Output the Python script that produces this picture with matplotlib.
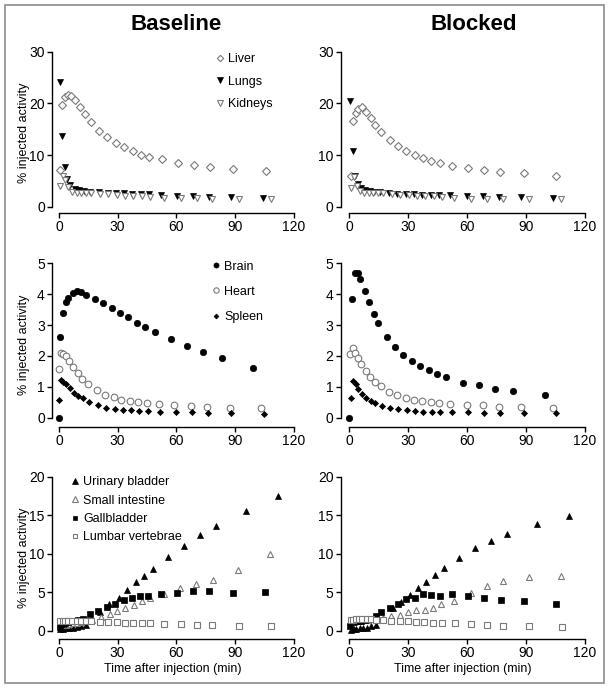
import matplotlib
matplotlib.use('Agg')
import matplotlib.pyplot as plt
from matplotlib.patches import Rectangle

plt.rcParams['font.family'] = ['Liberation Sans', 'DejaVu Sans']

# ---------------- data ----------------
x_ticks = [0, 30, 60, 90, 120]
titles = ['Baseline', 'Blocked']
y_label = '% injected activity'
x_label = 'Time after injection (min)'

# top row: Liver, Lungs, Kidneys
t_liver_base = [0.5, 1.7, 3.2, 4.4, 6.0, 8.2, 10.8, 13.1, 16.2, 20.5, 24.8, 29.2, 33.5, 37.7, 42.0, 46.3, 52.6, 60.8, 69.1, 77.3, 89.3, 105.8]
liver_base = [7.1, 19.7, 21.2, 21.7, 21.4, 20.6, 19.2, 17.9, 16.4, 14.7, 13.4, 12.3, 11.5, 10.7, 10.1, 9.7, 9.2, 8.5, 8.1, 7.7, 7.3, 6.9]
t_lungs_base = [0.5, 1.7, 2.9, 4.3, 5.8, 8.2, 10.4, 12.8, 15.9, 20.7, 24.9, 29.2, 33.3, 37.6, 41.8, 46.1, 52.1, 60.3, 68.5, 76.8, 87.9, 104.6]
lungs_base = [24.2, 13.7, 7.6, 5.4, 4.2, 3.5, 3.3, 3.1, 2.9, 2.8, 2.7, 2.6, 2.6, 2.5, 2.5, 2.4, 2.3, 2.1, 2.0, 1.9, 1.9, 1.7]
t_kidneys_base = [0.7, 2.0, 3.2, 4.8, 6.7, 9.0, 11.3, 13.7, 16.4, 21.0, 25.3, 29.5, 33.8, 38.1, 42.3, 46.6, 53.8, 62.3, 70.5, 78.5, 92.0, 108.4]
kidneys_base = [4.0, 6.0, 5.2, 3.9, 2.9, 2.6, 2.6, 2.6, 2.6, 2.5, 2.4, 2.3, 2.1, 2.1, 2.0, 1.9, 1.7, 1.7, 1.6, 1.5, 1.5, 1.4]

t_liver_block = [0.7, 2.0, 3.4, 4.6, 6.3, 8.5, 10.9, 13.3, 16.3, 20.7, 24.8, 29.1, 33.3, 37.6, 41.8, 46.2, 52.2, 60.5, 68.8, 77.0, 89.1, 105.4]
liver_block = [6.0, 16.6, 18.1, 18.9, 19.2, 18.4, 17.1, 15.9, 14.5, 13.0, 11.7, 10.8, 10.0, 9.4, 8.8, 8.4, 7.9, 7.4, 7.1, 6.7, 6.5, 6.0]
t_lungs_block = [0.5, 1.9, 3.1, 4.4, 5.9, 8.2, 10.5, 12.8, 15.6, 20.2, 24.5, 28.7, 33.0, 37.2, 41.5, 45.7, 51.5, 60.0, 68.2, 76.3, 87.7, 104.0]
lungs_block = [20.5, 10.8, 6.0, 4.3, 3.7, 3.3, 3.1, 2.9, 2.8, 2.6, 2.5, 2.5, 2.4, 2.3, 2.3, 2.3, 2.2, 2.1, 2.0, 1.9, 1.8, 1.7]
t_kidneys_block = [0.9, 2.2, 3.7, 5.4, 7.5, 9.9, 12.1, 14.4, 17.3, 21.8, 26.0, 30.3, 34.5, 38.8, 43.0, 47.3, 53.5, 61.9, 70.2, 78.4, 91.8, 108.1]
kidneys_block = [3.7, 5.8, 4.1, 3.0, 2.7, 2.6, 2.6, 2.6, 2.6, 2.5, 2.3, 2.2, 2.1, 2.1, 2.0, 1.9, 1.7, 1.5, 1.4, 1.4, 1.4, 1.4]

# middle row: Brain, Heart, Spleen
t_brain_base = [0.0, 0.7, 1.9, 3.4, 4.8, 7.0, 9.2, 11.4, 14.0, 18.2, 22.5, 26.9, 31.2, 35.5, 39.7, 44.0, 48.9, 57.3, 65.5, 73.8, 83.2, 99.5]
brain_base = [0.0, 2.62, 3.39, 3.75, 3.88, 4.05, 4.11, 4.07, 3.98, 3.86, 3.71, 3.55, 3.39, 3.25, 3.06, 2.93, 2.79, 2.55, 2.32, 2.12, 1.94, 1.61]
t_heart_base = [0.0, 0.9, 2.0, 3.4, 5.1, 7.3, 9.7, 11.8, 14.8, 19.4, 23.5, 28.0, 32.0, 36.5, 40.7, 45.0, 51.0, 59.1, 67.5, 75.7, 87.3, 103.6]
heart_base = [1.58, 2.11, 2.06, 1.99, 1.85, 1.65, 1.44, 1.26, 1.09, 0.89, 0.74, 0.66, 0.59, 0.55, 0.51, 0.48, 0.45, 0.42, 0.39, 0.36, 0.33, 0.30]
t_spleen_base = [0.0, 1.0, 2.2, 3.4, 5.5, 7.5, 9.7, 12.3, 15.3, 19.9, 24.2, 28.5, 32.7, 37.0, 41.2, 45.7, 51.6, 60.0, 68.3, 76.5, 88.1, 105.0]
spleen_base = [0.57, 1.21, 1.17, 1.09, 0.97, 0.81, 0.71, 0.63, 0.50, 0.41, 0.33, 0.29, 0.26, 0.24, 0.22, 0.21, 0.19, 0.18, 0.17, 0.16, 0.16, 0.13]

t_brain_block = [0.0, 1.4, 3.1, 4.2, 5.6, 7.8, 10.2, 12.4, 14.8, 19.0, 23.3, 27.5, 32.0, 36.2, 40.5, 44.7, 49.5, 57.8, 66.0, 74.3, 83.5, 99.8]
brain_block = [0.0, 3.86, 4.68, 4.70, 4.49, 4.10, 3.74, 3.37, 3.07, 2.62, 2.30, 2.04, 1.83, 1.67, 1.53, 1.41, 1.32, 1.14, 1.05, 0.94, 0.86, 0.75]
t_heart_block = [0.5, 1.9, 3.1, 4.2, 6.1, 8.3, 10.5, 12.9, 16.0, 20.2, 24.5, 28.7, 33.0, 37.2, 41.5, 45.7, 51.5, 59.8, 68.2, 76.3, 87.7, 103.7]
heart_block = [2.06, 2.27, 2.11, 1.95, 1.74, 1.51, 1.33, 1.17, 1.03, 0.84, 0.75, 0.65, 0.58, 0.53, 0.50, 0.48, 0.45, 0.42, 0.40, 0.36, 0.35, 0.30]
t_spleen_block = [0.7, 1.9, 3.2, 4.6, 6.5, 8.7, 10.9, 13.3, 16.5, 20.6, 24.8, 29.2, 33.3, 37.7, 42.0, 46.2, 52.4, 60.7, 68.8, 77.0, 88.9, 105.2]
spleen_block = [0.63, 1.20, 1.08, 0.93, 0.76, 0.63, 0.54, 0.48, 0.39, 0.32, 0.27, 0.24, 0.22, 0.19, 0.18, 0.17, 0.17, 0.17, 0.16, 0.16, 0.16, 0.16]

# bottom row: Urinary bladder, Small intestine, Gallbladder, Lumbar vertebrae
t_urinary_base = [0.8, 2.2, 3.6, 5.2, 7.0, 9.0, 11.2, 13.6, 16.5, 21.0, 25.8, 30.6, 35.0, 39.2, 43.5, 47.9, 55.7, 63.8, 72.2, 80.5, 95.8, 112.2]
urinary_base = [0.2, 0.25, 0.3, 0.35, 0.4, 0.45, 0.55, 0.75, 1.4, 2.4, 3.5, 4.3, 5.3, 6.3, 7.1, 8.0, 9.6, 11.0, 12.4, 13.6, 15.5, 17.5]
t_smallint_base = [0.8, 2.2, 3.6, 5.2, 7.0, 9.0, 11.2, 13.6, 17.0, 21.7, 26.0, 29.7, 34.0, 38.4, 42.6, 46.8, 53.5, 62.1, 70.3, 78.6, 91.7, 108.0]
smallint_base = [0.6, 0.7, 0.8, 0.9, 1.0, 1.05, 1.1, 1.2, 1.4, 1.8, 2.2, 2.6, 2.9, 3.4, 3.8, 4.2, 4.8, 5.5, 6.1, 6.6, 7.9, 10.0]
t_gall_base = [0.5, 1.9, 3.2, 4.6, 6.1, 8.0, 10.0, 12.1, 15.8, 20.2, 24.5, 28.7, 33.1, 37.3, 41.6, 45.8, 52.1, 60.3, 68.6, 76.9, 88.8, 105.3]
gall_base = [0.5, 0.9, 1.0, 1.1, 1.2, 1.3, 1.35, 1.5, 2.2, 2.6, 3.1, 3.5, 3.95, 4.3, 4.5, 4.55, 4.8, 4.9, 5.1, 5.1, 4.85, 5.0]
t_lumbar_base = [0.7, 2.0, 3.2, 4.8, 6.7, 9.0, 11.3, 13.7, 16.4, 21.0, 25.3, 29.5, 33.8, 38.1, 42.3, 46.6, 53.8, 62.3, 70.5, 78.5, 92.0, 108.4]
lumbar_base = [1.2, 1.25, 1.3, 1.3, 1.3, 1.3, 1.3, 1.25, 1.2, 1.15, 1.1, 1.1, 1.05, 1.05, 1.0, 0.98, 0.88, 0.82, 0.76, 0.72, 0.65, 0.6]

t_urinary_block = [0.8, 2.2, 3.6, 5.2, 7.0, 9.0, 11.2, 13.6, 17.0, 22.1, 26.5, 30.8, 35.0, 39.3, 43.5, 48.1, 55.8, 64.1, 72.4, 80.5, 95.8, 112.1]
urinary_block = [0.15, 0.2, 0.25, 0.3, 0.35, 0.4, 0.55, 0.8, 1.5, 2.9, 3.7, 4.6, 5.5, 6.3, 7.2, 8.1, 9.5, 10.7, 11.7, 12.5, 13.9, 14.9]
t_smallint_block = [0.8, 2.2, 3.6, 5.2, 7.0, 9.0, 11.2, 13.6, 17.0, 21.4, 25.7, 29.9, 34.1, 38.4, 42.5, 46.7, 53.5, 61.9, 70.2, 78.5, 91.7, 107.9]
smallint_block = [1.0, 1.1, 1.2, 1.3, 1.35, 1.4, 1.5, 1.6, 1.7, 1.9, 2.1, 2.4, 2.7, 2.75, 3.0, 3.5, 3.85, 4.95, 5.8, 6.4, 7.0, 7.1]
t_gall_block = [0.5, 1.9, 3.2, 4.6, 6.1, 8.0, 10.0, 13.5, 16.3, 20.6, 24.8, 28.9, 33.3, 37.6, 41.8, 46.1, 52.2, 60.5, 68.8, 77.2, 89.2, 105.3]
gall_block = [0.6, 1.1, 1.2, 1.25, 1.3, 1.4, 1.5, 1.9, 2.4, 3.0, 3.5, 4.05, 4.2, 4.7, 4.6, 4.45, 4.7, 4.45, 4.3, 4.0, 3.9, 3.5]
t_lumbar_block = [0.7, 2.0, 3.2, 4.8, 6.7, 9.0, 11.3, 13.7, 17.1, 21.4, 25.7, 29.9, 34.1, 38.3, 42.6, 47.0, 53.7, 61.9, 70.2, 78.5, 91.7, 108.3]
lumbar_block = [1.4, 1.45, 1.5, 1.5, 1.5, 1.5, 1.5, 1.45, 1.4, 1.3, 1.3, 1.2, 1.15, 1.1, 1.05, 1.0, 0.95, 0.82, 0.73, 0.65, 0.6, 0.52]

# ---------------- styles ----------------
GRAY = '#7a7a7a'
style = {
    'Liver': dict(marker='D', ms=4.0, mfc='white', mec=GRAY, mew=0.8),
    'Lungs': dict(marker='v', ms=4.6, mfc='black', mec='black', mew=0.5),
    'Kidneys': dict(marker='v', ms=4.6, mfc='white', mec=GRAY, mew=0.8),
    'Brain': dict(marker='o', ms=4.6, mfc='black', mec='black', mew=0.5),
    'Heart': dict(marker='o', ms=4.8, mfc='white', mec=GRAY, mew=0.8),
    'Spleen': dict(marker='D', ms=3.1, mfc='black', mec='black', mew=0.5),
    'Urinary bladder': dict(marker='^', ms=4.6, mfc='black', mec='black', mew=0.5),
    'Small intestine': dict(marker='^', ms=4.6, mfc='white', mec=GRAY, mew=0.8),
    'Gallbladder': dict(marker='s', ms=4.2, mfc='black', mec='black', mew=0.5),
    'Lumbar vertebrae': dict(marker='s', ms=4.2, mfc='white', mec=GRAY, mew=0.8),
}

W, H = 612, 689
fig = plt.figure(figsize=(W / 100, H / 100), dpi=100)


def fx(px):
    return px / W


def fy(py):
    return 1 - py / H


cols = [(51.7, 293.5, -3.7), (340.5, 584.7, -4.5)]
rows = [(51.7, 213.0, -1.22, 30, [0, 10, 20, 30]),
        (263.3, 426.7, -0.29, 5, [0, 1, 2, 3, 4, 5]),
        (476.7, 639.3, -1.12, 20, [0, 5, 10, 15, 20])]

panels = [
    [
        [('Liver', t_liver_base, liver_base), ('Lungs', t_lungs_base, lungs_base), ('Kidneys', t_kidneys_base, kidneys_base)],
        [('Liver', t_liver_block, liver_block), ('Lungs', t_lungs_block, lungs_block), ('Kidneys', t_kidneys_block, kidneys_block)],
    ],
    [
        [('Brain', t_brain_base, brain_base), ('Heart', t_heart_base, heart_base), ('Spleen', t_spleen_base, spleen_base)],
        [('Brain', t_brain_block, brain_block), ('Heart', t_heart_block, heart_block), ('Spleen', t_spleen_block, spleen_block)],
    ],
    [
        [('Urinary bladder', t_urinary_base, urinary_base), ('Small intestine', t_smallint_base, smallint_base),
         ('Gallbladder', t_gall_base, gall_base), ('Lumbar vertebrae', t_lumbar_base, lumbar_base)],
        [('Urinary bladder', t_urinary_block, urinary_block), ('Small intestine', t_smallint_block, smallint_block),
         ('Gallbladder', t_gall_block, gall_block), ('Lumbar vertebrae', t_lumbar_block, lumbar_block)],
    ],
]

legend_cfg = {
    0: dict(anchor=(215, 53.0), spacing=0.85),
    1: dict(anchor=(211, 260.7), spacing=1.05),
    2: dict(anchor=(70, 476.3), spacing=0.51),
}

for r, (top, bot, ylo, yhi, yt) in enumerate(rows):
    for c, (lft, rgt, xlo) in enumerate(cols):
        ax = fig.add_axes([fx(lft), fy(bot), (rgt - lft) / W, (bot - top) / H])
        ax.set_xlim(xlo, 120)
        ax.set_ylim(ylo, yhi)
        for name, t, v in panels[r][c]:
            ax.plot(t, v, linestyle='none', label=name, clip_on=False, **style[name])
        for s in ['top', 'right']:
            ax.spines[s].set_visible(False)
        ax.spines['left'].set_bounds(0, yhi)
        ax.spines['bottom'].set_bounds(0, 120)
        for s in ['left', 'bottom']:
            ax.spines[s].set_linewidth(1.0)
        ax.set_xticks(x_ticks)
        ax.set_yticks(yt)
        ax.tick_params(length=3.5, width=1.0, labelsize=10, pad=1.5)
        ax.patch.set_visible(False)
        if c == 0:
            ax.set_ylabel(y_label, fontsize=9)
            ax.yaxis.set_label_coords(-0.09, 0.5)
            cfg = legend_cfg[r]
            ax.legend(loc='upper left', bbox_to_anchor=(fx(cfg['anchor'][0]), fy(cfg['anchor'][1])),
                      bbox_transform=fig.transFigure, frameon=False, fontsize=9,
                      handlelength=0.8, handletextpad=0.25, labelspacing=cfg['spacing'],
                      borderpad=0, borderaxespad=0, numpoints=1, markerscale=0.8)
        if r == 2:
            ax.set_xlabel(x_label, fontsize=9, labelpad=2)

fig.text(fx(176), fy(25), titles[0], ha='center', va='center', fontsize=16, fontweight='bold')
fig.text(fx(474), fy(25), titles[1], ha='center', va='center', fontsize=16, fontweight='bold')

fig.add_artist(Rectangle((fx(5), fy(683)), (604 - 5) / W, (683 - 5) / H, transform=fig.transFigure,
                         fill=False, edgecolor='#8c8c8c', linewidth=1.2))

fig.savefig('out.png', dpi=100)
